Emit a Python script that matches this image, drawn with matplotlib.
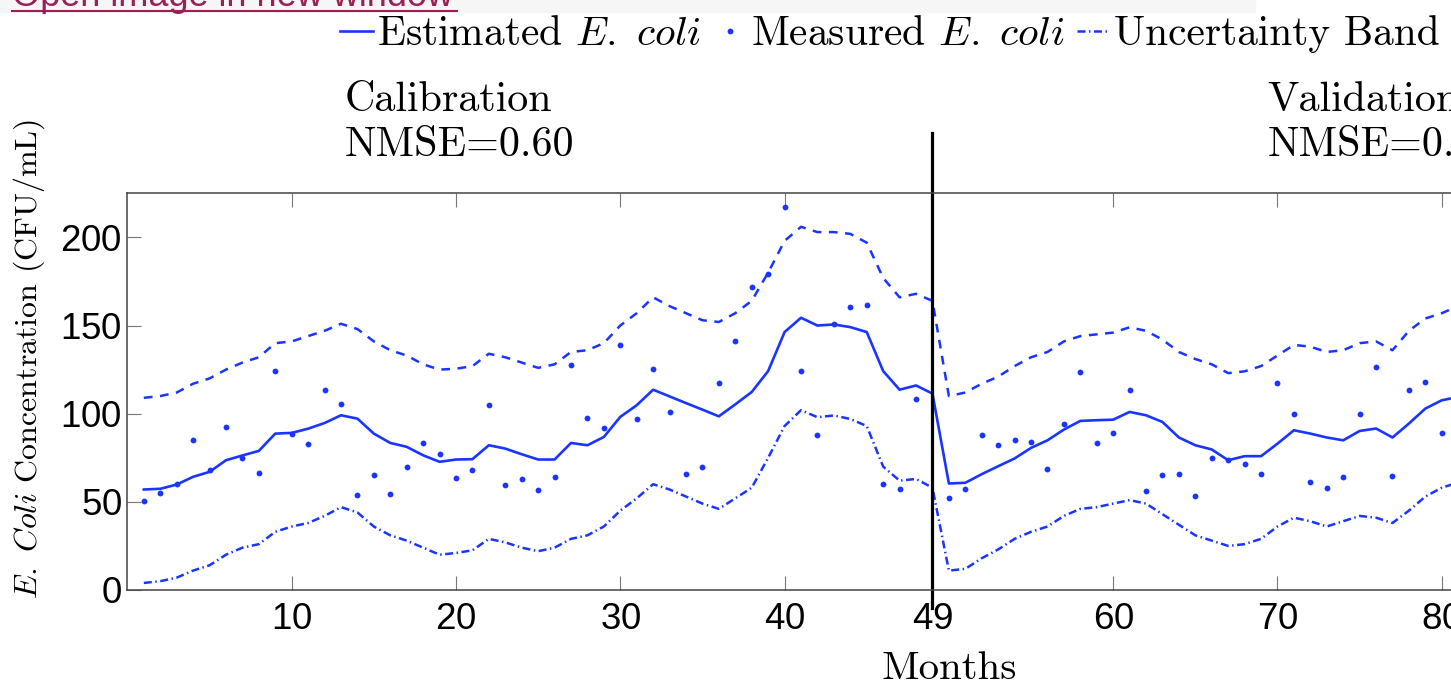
import numpy as np
import matplotlib
matplotlib.use("Agg")
import matplotlib.pyplot as plt
from matplotlib.lines import Line2D
from matplotlib.patches import Rectangle

plt.rcParams['font.family'] = ['cmr10', 'DejaVu Serif']
plt.rcParams['mathtext.fontset'] = 'cm'
plt.rcParams['axes.unicode_minus'] = False
plt.rcParams['axes.formatter.use_mathtext'] = True

# monthly values
months = np.arange(1, 82)
estimated = [57, 57.4, 59.8, 64.2, 67, 73.6, 76.3, 78.9, 88.7, 89.1,
             91.5, 94.7, 99.1, 97.2, 88.7, 83.4, 81.2, 76.4, 72.7, 74,
             74.2, 82.1, 80.2, 77, 74, 74, 83.4, 82.1, 86.8, 98.2,
             104.8, 113.6, 109.8, 106, 102.3, 98.5, 105.3, 112.3, 124.2, 146.3,
             154.4, 150, 150.6, 149.1, 146.3, 124.2, 113.6, 116, 111.4, 60.4,
             60.8, 65.7, 70.2, 74.6, 80.6, 84.9, 91, 95.9, 96.3, 96.6,
             101, 99.1, 95.3, 86.5, 82.1, 79.7, 73.6, 75.9, 75.9, 83,
             90.6, 88.7, 86.5, 84.9, 90.2, 91.6, 86.5, 94.4, 102.9, 107.6,
             109.5]
upper = [109, 110, 112, 117, 120, 125, 129, 132, 140, 141,
         144, 147, 151, 148, 141, 136, 133, 128, 125, 125.5,
         127, 134, 132, 129, 126, 128, 135, 136, 140, 150,
         157, 166, 161, 157, 153, 152, 157, 164, 180, 198,
         206, 203, 203, 202, 197, 177, 166, 168, 164, 110,
         112, 117, 121, 127, 132, 135, 141, 144, 145, 146,
         149, 147, 142, 135, 131, 128, 123, 124, 127, 133,
         139, 138, 135, 136, 140, 141, 136, 147, 154, 157,
         161]
lower = [4, 5, 7, 11, 14, 20, 24, 26, 33, 36,
         38, 42, 47, 44, 36, 31, 28, 24, 20, 21,
         22.5, 29, 27, 24, 22, 24, 29, 31, 36, 45,
         52, 60, 57, 53, 49, 46, 52, 58, 75, 93,
         102, 98, 99, 97, 93, 70, 62, 63, 58, 11,
         12, 18, 23, 29, 33, 36, 42, 46, 47, 49,
         51, 49, 43, 37, 31, 28, 25, 26, 29, 36,
         41, 39, 36, 39, 42, 41, 38, 45, 53, 58,
         61]
measured = [50.6, 54.8, 60, 85.3, 68, 92.5, 75.1, 66.6, 124.2, 88.7,
            82.7, 113.6, 105.3, 53.6, 65.1, 54.4, 69.5, 83.1, 77.4, 63.4,
            67.9, 104.8, 59.5, 63.2, 56.6, 64.2, 127.4, 97.8, 92.1, 138.7,
            97.2, 125.1, 101, 66, 69.8, 117.4, 141, 171.7, 179.3, 217,
            124.2, 87.8, 150.6, 160.4, 161.4, 60, 57, 108.3, np.nan, 52,
            57, 87.8, 82.1, 84.9, 84, 68.5, 94, 123.6, 83.6, 89.1,
            113.3, 56.2, 65.1, 66, 53.2, 75.1, 73.6, 71.3, 65.7, 117.4,
            100, 61.3, 58.1, 64.2, 100, 126.5, 64.6, 113.3, 118, 89.1]
split_month = 49
xticks = [10, 20, 30, 40, 49, 60, 70, 80, 90, 100]
yticks = [0, 50, 100, 150, 200]

blue = '#1a35ff'

fig = plt.figure(figsize=(14.51, 6.85), dpi=100)
# axes runs past the right edge of the picture (cropped screenshot)
ax = fig.add_axes([0.0878, 0.1387, 1.1323, 0.5791])

ax.plot(months, upper, color=blue, lw=1.8, ls=(0, (3.5, 3)))
band, = ax.plot(months, lower, color=blue, lw=1.8, ls=(0, (3.2, 1.4, 0.6, 1.4)),
                label='Uncertainty Band')
est, = ax.plot(months, estimated, color=blue, lw=1.9, label=r'Estimated $\mathit{E.\ coli}$')
meas, = ax.plot(months[:len(measured)], measured, ls='none', marker='o', ms=4.2,
                mec='none', color=blue, label=r'Measured $\mathit{E.\ coli}$')

ax.axvline(split_month, ymin=-0.045, ymax=1.152, color='black', lw=2.3, clip_on=False)

ax.set_xlim(0, 100)
ax.set_ylim(0, 225)
ax.set_xticks(xticks)
ax.set_yticks(yticks)
ax.tick_params(direction='in', length=10, width=0.8, color='#777777',
               top=True, right=True, labelsize=26.5)
ax.tick_params(axis='x', pad=9)
ax.tick_params(axis='y', pad=4)
for lab in ax.get_xticklabels() + ax.get_yticklabels():
    lab.set_fontfamily('Liberation Sans')
for s in ax.spines.values():
    s.set_color('#444444')
    s.set_linewidth(1.1)

ax.set_xlabel('Months', fontsize=29.5)
ax.xaxis.set_label_coords(0.5, -0.153)
ax.set_ylabel(r'$\mathit{E.\ Coli}$ Concentration (CFU/mL)', fontsize=23)
ax.yaxis.set_label_coords(-0.049, 0.582)

ax.text(13.2, 241.5, 'Calibration\nNMSE=0.60', fontsize=30.3, va='bottom',
        linespacing=1.27)
ax.text(69.4, 241.5, 'Validation\nNMSE=0.52', fontsize=30.3, va='bottom',
        linespacing=1.27)

fig.legend(handles=[est, meas, band], loc='center', bbox_to_anchor=(0.6134, 0.95),
           ncol=3, frameon=False, fontsize=29.8, handlelength=0.8,
           handletextpad=0.1, columnspacing=0.3, borderpad=0)

# page chrome above the figure
fig.patches.append(Rectangle((0, 1 - 12 / 685), 1255 / 1451, 12 / 685,
                             transform=fig.transFigure, color='#f6f6f6', zorder=0))
fig.text(12 / 1451, 1 - 6 / 685, 'Open image in new window', fontsize=26,
         family='Liberation Sans', color='#9b2055', va='baseline')
fig.lines.append(Line2D([12 / 1451, 457 / 1451], [1 - 11 / 685, 1 - 11 / 685],
                        transform=fig.transFigure, color='#9b2055', lw=1.5))

fig.savefig('out.png', dpi=100)
